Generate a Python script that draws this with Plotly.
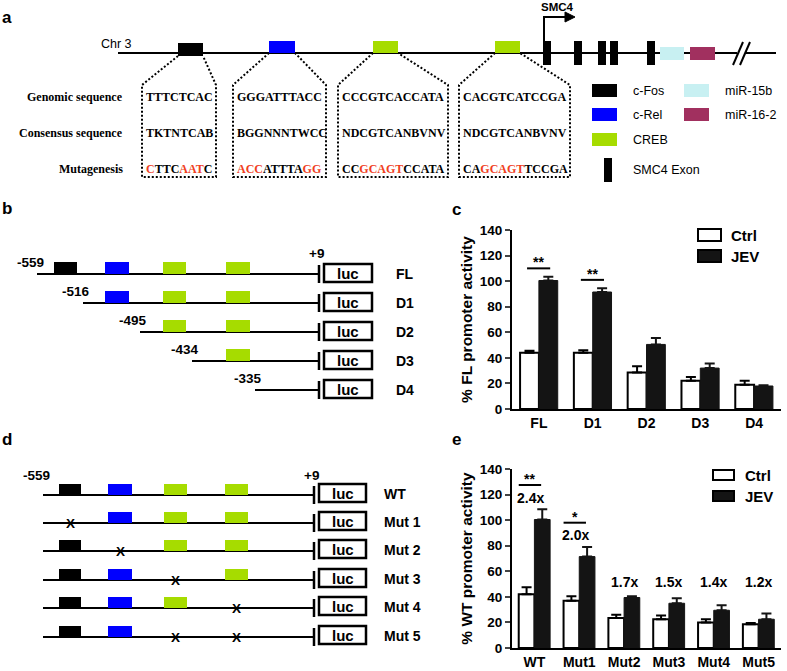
import plotly.graph_objects as go

W, H = 787, 671
SANS = "Liberation Sans, Arial, sans-serif"
SERIF = "Liberation Serif, Times New Roman, serif"
RED = "#f0401e"

# ---------------- data: panel c ----------------
c_categories = ["FL", "D1", "D2", "D3", "D4"]
c_ctrl = [44, 44, 28.5, 22, 19]
c_ctrl_err = [1.5, 2, 5, 3, 3]
c_jev = [100.5, 91.5, 50.5, 32, 18]
c_jev_err = [3, 3, 5, 3.5, 0.5]
c_sig_categories = ["FL", "D1"]
c_sig_labels = ["**", "**"]

# ---------------- data: panel e ----------------
e_categories = ["WT", "Mut1", "Mut2", "Mut3", "Mut4", "Mut5"]
e_ctrl = [42, 37, 23.5, 22.5, 20, 18.5]
e_ctrl_err = [5.5, 3.5, 2.5, 3, 2.5, 1]
e_jev = [100.5, 71.5, 39.5, 35, 29.5, 22.5]
e_jev_err = [8, 7.5, 1, 4, 4, 4.5]
e_fold = ["2.4x", "2.0x", "1.7x", "1.5x", "1.4x", "1.2x"]
e_sig_categories = ["WT", "Mut1"]
e_sig_labels = ["**", "*"]

series_names = ["Ctrl", "JEV"]

# ---------------- data: panel a ----------------
seq_row_labels = ["Genomic sequence", "Consensus sequence", "Mutagenesis"]
genomic = ["TTTCTCAC", "GGGATTTACC", "CCCGTCACCATA", "CACGTCATCCGA"]
consensus = ["TKTNTCAB", "BGGNNNTWCC", "NDCGTCANBVNV", "NDCGTCANBVNV"]
mutagenesis = ["CTTCAATC", "ACCATTTAGG", "CCGCAGTCCATA", "CAGCAGTTCCGA"]
mutated_mask = ["10001110", "1110000011", "001111100000", "001111100000"]
site_names = ["c-Fos", "c-Rel", "CREB", "CREB"]
legend_a_left = ["c-Fos", "c-Rel", "CREB", "SMC4 Exon"]
legend_a_right = ["miR-15b", "miR-16-2"]
n_exons = 5

# ---------------- data: panels b / d ----------------
b_names = ["FL", "D1", "D2", "D3", "D4"]
b_starts = ["-559", "-516", "-495", "-434", "-335"]
b_sites = [[0, 1, 2, 3], [1, 2, 3], [2, 3], [3], []]
d_names = ["WT", "Mut 1", "Mut 2", "Mut 3", "Mut 4", "Mut 5"]
d_mutated = [[], [0], [1], [2], [3], [2, 3]]

COLORS = {"c-Fos": "#000000", "c-Rel": "#0000ff", "CREB": "#a6dc00",
          "miR-15b": "#c8f0f2", "miR-16-2": "#a1305f", "SMC4 Exon": "#000000"}
BAR_FILL = {"Ctrl": "white", "JEV": "#141414"}

fig = go.Figure()

# ---------------- bar charts ----------------
def bars(cats, ctrl, ctrl_err, jev, jev_err, xa, ya):
    n = len(cats)
    fig.add_trace(go.Bar(x=cats, y=ctrl, name=series_names[0], xaxis=xa, yaxis=ya,
                         showlegend=False,
                         marker=dict(color=BAR_FILL["Ctrl"], line=dict(color="black", width=2)),
                         error_y=dict(type="data", array=ctrl_err, arrayminus=[0] * n,
                                      symmetric=False, color="black", thickness=2, width=5)))
    fig.add_trace(go.Bar(x=cats, y=jev, name=series_names[1], xaxis=xa, yaxis=ya,
                         showlegend=False,
                         marker=dict(color=BAR_FILL["JEV"], line=dict(color="#141414", width=1)),
                         error_y=dict(type="data", array=jev_err, arrayminus=[0] * n,
                                      symmetric=False, color="#141414", thickness=2, width=5)))

bars(c_categories, c_ctrl, c_ctrl_err, c_jev, c_jev_err, "x", "y")
bars(e_categories, e_ctrl, e_ctrl_err, e_jev, e_jev_err, "x2", "y2")

shapes = []
annotations = []

def txt(x, y, s, size, bold=False, xanchor="center", family=SANS, color="black",
        xref="x3", yref="y3", yanchor="middle", yshift=0):
    annotations.append(dict(x=x, y=y, text=s, xref=xref, yref=yref, showarrow=False,
                            xanchor=xanchor, yanchor=yanchor, yshift=yshift,
                            font=dict(family=family, size=size, color=color,
                                      weight="bold" if bold else "normal")))

def rect(x0, y0, x1, y1, fill, line_color=None, lw=0):
    shapes.append(dict(type="rect", xref="x3", yref="y3", x0=x0, y0=y0, x1=x1, y1=y1,
                       fillcolor=fill, line=dict(color=line_color or fill, width=lw)))

def line(x0, y0, x1, y1, lw=2, color="black", dash=None):
    d = dict(color=color, width=lw)
    if dash:
        d["dash"] = dash
    shapes.append(dict(type="line", xref="x3", yref="y3", x0=x0, y0=y0, x1=x1, y1=y1, line=d))

def path(p, lw=2, color="black", fill=None, dash=None):
    d = dict(color=color, width=lw)
    if dash:
        d["dash"] = dash
    s = dict(type="path", xref="x3", yref="y3", path=p, line=d)
    if fill:
        s["fillcolor"] = fill
    shapes.append(s)

# significance marks panel c
c_top = [v + e for v, e in zip(c_jev, c_jev_err)]
for cat, lab in zip(c_sig_categories, c_sig_labels):
    i = c_categories.index(cat)
    yl = c_top[i] + 6.5
    shapes.append(dict(type="line", xref="x", yref="y", x0=i - 0.22, x1=i + 0.21, y0=yl, y1=yl,
                       line=dict(color="black", width=2)))
    txt(i, yl, lab, 14, True, xref="x", yref="y", yanchor="bottom", yshift=-4)

# significance & fold marks panel e
e_top = [v + e for v, e in zip(e_jev, e_jev_err)]
for i, f in enumerate(e_fold):
    yf = max(e_top[i] + 9, 52)
    xo = -0.08 if e_categories[i] in e_sig_categories else 0
    txt(i + xo, yf, f, 14, True, xref="x2", yref="y2")
for cat, lab in zip(e_sig_categories, e_sig_labels):
    i = e_categories.index(cat)
    yl = e_top[i] + 19
    shapes.append(dict(type="line", xref="x2", yref="y2", x0=i - 0.35, x1=i + 0.15, y0=yl, y1=yl,
                       line=dict(color="black", width=2)))
    txt(i - 0.1, yl, lab, 14, True, xref="x2", yref="y2", yanchor="bottom", yshift=-4)

# legends for c and e (wide boxes, as in the reference)
for (bx0, bx1, ys, bh, tx) in [(698, 721, [235, 256], 12, 729), (713, 734, [475, 496], 10, 743)]:
    for name, y in zip(series_names, ys):
        rect(bx0, y - bh / 2, bx1, y + bh / 2, BAR_FILL[name], "black", 2)
        txt(tx, y, name, 15, True, xanchor="left")

# ---------------- panel letters ----------------
for letter, x, y in [("a", 7, 17), ("b", 7, 208), ("c", 456, 209), ("d", 7, 439), ("e", 456, 439)]:
    txt(x, y, letter, 17, True)

# ---------------- panel a ----------------
CHR_Y = 53
line(118, CHR_Y, 737, CHR_Y)
line(746, CHR_Y, 776, CHR_Y)
line(733, 65, 743, 42, lw=2)
line(740, 65, 750, 42, lw=2)
txt(116, 44, "Chr 3", 12.5)

site_x = [(178, 203), (269, 295), (373, 398), (495, 520)]
site_y = [(43, 56), (41, 53), (41, 53), (41, 53)]
box_x = [(142, 216), (233, 326), (338, 448), (459, 570)]
BOX_TOP, BOX_BOT = 85, 177
for k, name in enumerate(site_names):
    sx0, sx1 = site_x[k]
    bx0, bx1 = box_x[k]
    rect(sx0, site_y[k][0], sx1, site_y[k][1], COLORS[name])
    path(f"M {sx0} {site_y[k][1]} L {bx0} {BOX_TOP} L {bx0} {BOX_BOT} L {bx1} {BOX_BOT} "
         f"L {bx1} {BOX_TOP} L {sx1} {site_y[k][1]}", lw=2, dash="2px,2px")

exon_x = [543, 574, 598, 610, 647]
for ex in exon_x[:n_exons]:
    rect(ex, 41, ex + 8, 65, COLORS["SMC4 Exon"])
path("M 544 41 L 544 17 L 567 17", lw=2)
path("M 565 12 L 575 17 L 565 22 Z", lw=1, fill="black")
txt(557, 7, "SMC4", 11.5, True)
rect(660, 47, 684, 60, COLORS["miR-15b"])
rect(690, 47, 715, 60, COLORS["miR-16-2"])

def colorize(seq, mask):
    out, cur, buf = "", None, ""
    for ch, m in zip(seq, mask):
        if m != cur and buf:
            out += f'<span style="color:{RED}">{buf}</span>' if cur == "1" else buf
            buf = ""
        cur = m
        buf += ch
    out += f'<span style="color:{RED}">{buf}</span>' if cur == "1" else buf
    return out

row_y = [97, 133, 169]
for lab, y in zip(seq_row_labels, row_y):
    txt(125, y, lab, 12, True, xanchor="right", family=SERIF)
for k in range(4):
    x = box_x[k][0] + 2
    txt(x, row_y[0], genomic[k], 12, True, xanchor="left", family=SERIF)
    txt(x, row_y[1], consensus[k], 12, True, xanchor="left", family=SERIF)
    txt(x, row_y[2], colorize(mutagenesis[k], mutated_mask[k]), 12, True,
        xanchor="left", family=SERIF)

leg_rows = [91, 115, 140, 170]
for name, y in zip(legend_a_left, leg_rows):
    if name == "SMC4 Exon":
        rect(604, y - 12, 612, y + 12, COLORS[name])
    else:
        rect(592, y - 7, 617, y + 6, COLORS[name])
    txt(631, y, name, 12.5, xanchor="left")
for name, y in zip(legend_a_right, leg_rows):
    rect(684, y - 7, 709, y + 6, COLORS[name])
    txt(723, y, name, 12.5, xanchor="left")

# ---------------- panel b ----------------
b_row_y = [274, 303, 332, 361, 390]
b_line_x0 = [37, 83, 140, 192, 255]
b_site_x = [(54, 77), (105, 129), (163, 186), (226, 250)]
for r, name in enumerate(b_names):
    y = b_row_y[r]
    line(b_line_x0[r], y, 318, y)
    for s in b_sites[r]:
        rect(b_site_x[s][0], y - 12, b_site_x[s][1], y, COLORS[site_names[s]])
    line(319, y - 9, 319, y + 9, lw=2.5)
    rect(324, y - 10, 372, y + 8, "white", "black", 2.5)
    txt(348, y - 1, "luc", 15, True)
    txt(394, y, name, 14, True, xanchor="left")
    txt(b_line_x0[r] - 7, y - 12, b_starts[r], 13.5, True)
txt(316, 253, "+9", 13.5, True)

# ---------------- panel d ----------------
d_row_y = [495, 523, 551, 580, 608, 637]
d_site_x = [(59, 81), (108, 132), (164, 187), (225, 248)]
for r, name in enumerate(d_names):
    y = d_row_y[r]
    line(43, y, 313, y)
    for s in range(4):
        cx = (d_site_x[s][0] + d_site_x[s][1]) / 2
        if s in d_mutated[r]:
            txt(cx, y, "X", 13.5, True)
        else:
            rect(d_site_x[s][0], y - 11, d_site_x[s][1], y, COLORS[site_names[s]])
    line(314, y - 9, 314, y + 9, lw=2.5)
    rect(319, y - 11, 366, y + 7, "white", "black", 2.5)
    txt(342.5, y - 2, "luc", 15, True)
    txt(382, y - 1, name, 14, True, xanchor="left")
txt(36, 475, "-559", 13.5, True)
txt(311, 475, "+9", 13.5, True)

# ---------------- layout ----------------
def px_x(v):
    return v / W

def px_y(v):
    return 1 - v / H

tickfont = dict(family=SANS, size=13.5, color="black", weight="bold")
axis_common = dict(showline=True, linecolor="black", linewidth=2, showgrid=False,
                   zeroline=False, automargin=False, fixedrange=True)

fig.update_layout(
    width=W, height=H, margin=dict(l=0, r=0, t=0, b=0),
    paper_bgcolor="white", plot_bgcolor="rgba(0,0,0,0)",
    barmode="group", bargap=0.3, bargroupgap=0,
    xaxis=dict(domain=[px_x(512), px_x(781)], anchor="y", ticks="", tickfont=dict(tickfont, size=14),
               **axis_common),
    yaxis=dict(domain=[px_y(409), px_y(230)], anchor="x", range=[0, 140], dtick=20,
               ticks="outside", ticklen=5, tickwidth=2, tickfont=tickfont,
               title=dict(text="% FL promoter activity", standoff=3,
                          font=dict(family=SANS, size=15.5, color="black", weight="bold")),
               **axis_common),
    xaxis2=dict(domain=[px_x(512), px_x(781)], anchor="y2", ticks="", tickfont=dict(tickfont, size=14),
                **axis_common),
    yaxis2=dict(domain=[px_y(648), px_y(469)], anchor="x2", range=[0, 140], dtick=20,
                ticks="outside", ticklen=5, tickwidth=2, tickfont=tickfont,
                title=dict(text="% WT promoter activity", standoff=3,
                           font=dict(family=SANS, size=15.5, color="black", weight="bold")),
                **axis_common),
    xaxis3=dict(domain=[0, 1], range=[0, W], visible=False, anchor="y3", fixedrange=True),
    yaxis3=dict(domain=[0, 1], range=[H, 0], visible=False, anchor="x3", fixedrange=True),
    shapes=shapes,
    annotations=annotations,
    showlegend=False,
)

fig.write_html("out.html", config={"displayModeBar": False},
               post_script="document.body.style.margin='0px';document.body.style.overflow='hidden';")
